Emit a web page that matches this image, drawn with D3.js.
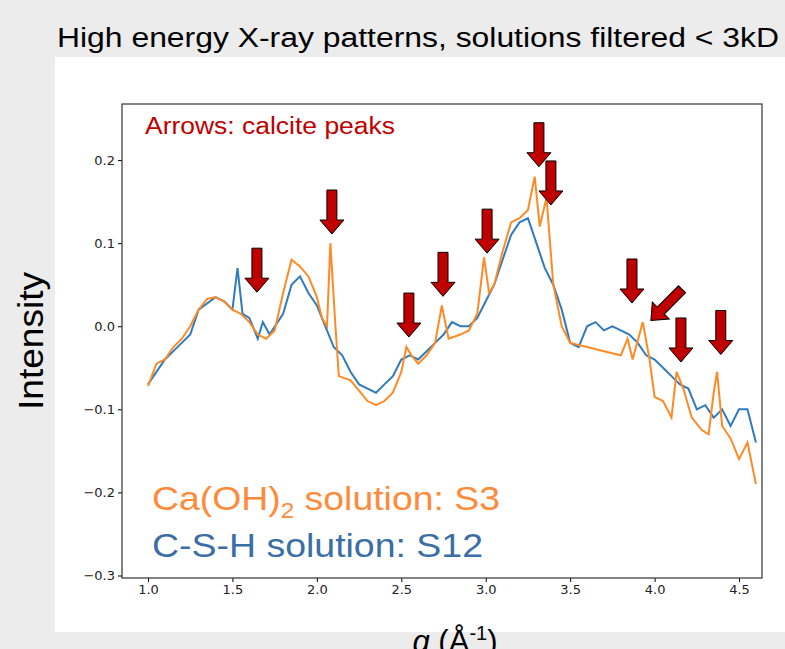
<!DOCTYPE html>
<html><head><meta charset="utf-8">
<script src="https://cdn.jsdelivr.net/npm/d3@7"></script>
<style>body{margin:0;background:#ececec;font-family:"Liberation Sans",Arial,sans-serif}</style>
</head><body>
<svg id="chart" width="785" height="649"></svg>
<script>
// orange: Ca(OH)2 solution S3
const qS3 = [1.0,1.05,1.1,1.15,1.2,1.25,1.3,1.35,1.4,1.45,1.5,1.55,1.6,1.65,1.7,1.75,1.8,1.85,1.9,1.95,2.0,2.03,2.06,2.08,2.11,2.13,2.2,2.3,2.35,2.4,2.45,2.5,2.53,2.56,2.6,2.65,2.7,2.74,2.78,2.85,2.9,2.95,2.99,3.02,3.05,3.1,3.15,3.2,3.25,3.29,3.32,3.36,3.4,3.45,3.5,3.6,3.7,3.8,3.84,3.87,3.93,3.97,4.0,4.05,4.1,4.13,4.17,4.22,4.28,4.32,4.35,4.37,4.4,4.45,4.5,4.55,4.6];
const vS3 = [-0.072,-0.045,-0.04,-0.025,-0.015,0.0,0.02,0.033,0.035,0.03,0.02,0.015,0.005,-0.01,-0.015,-0.005,0.04,0.08,0.072,0.06,0.035,0.01,0.0,0.1,0.0,-0.06,-0.065,-0.09,-0.095,-0.09,-0.08,-0.055,-0.025,-0.035,-0.045,-0.035,-0.02,0.025,-0.015,-0.01,-0.005,0.015,0.083,0.04,0.05,0.09,0.125,0.13,0.14,0.18,0.12,0.155,0.05,0.0,-0.02,-0.025,-0.03,-0.035,-0.015,-0.04,0.005,-0.04,-0.085,-0.09,-0.11,-0.055,-0.075,-0.11,-0.125,-0.13,-0.08,-0.055,-0.12,-0.135,-0.16,-0.14,-0.19];
// blue: C-S-H solution S12
const qS12 = [1.0,1.1,1.2,1.25,1.3,1.4,1.45,1.5,1.53,1.56,1.6,1.65,1.68,1.72,1.8,1.85,1.9,1.95,2.0,2.05,2.1,2.15,2.2,2.25,2.3,2.35,2.4,2.45,2.5,2.55,2.6,2.65,2.7,2.75,2.8,2.85,2.9,2.95,3.0,3.05,3.1,3.15,3.2,3.25,3.3,3.35,3.4,3.45,3.5,3.55,3.6,3.65,3.7,3.75,3.8,3.85,3.9,3.95,4.0,4.05,4.1,4.15,4.2,4.25,4.3,4.35,4.4,4.45,4.5,4.55,4.6];
const vS12 = [-0.07,-0.04,-0.02,-0.01,0.02,0.035,0.03,0.02,0.07,0.015,0.01,-0.015,0.005,-0.01,0.015,0.05,0.06,0.04,0.025,0.0,-0.025,-0.035,-0.055,-0.07,-0.075,-0.08,-0.07,-0.06,-0.04,-0.035,-0.04,-0.03,-0.02,-0.01,0.005,0.0,0.0,0.01,0.03,0.05,0.08,0.11,0.125,0.13,0.1,0.07,0.05,0.02,-0.02,-0.025,0.0,0.005,-0.005,0.0,-0.005,-0.01,-0.02,-0.035,-0.04,-0.05,-0.06,-0.07,-0.075,-0.1,-0.095,-0.11,-0.1,-0.12,-0.1,-0.1,-0.14];
// calcite arrows: tip q, tip value, angle (0 = pointing down)
const arrowQ = [1.645,2.089,2.545,2.747,3.008,3.315,3.386,3.866,3.978,4.156,4.392];
const arrowV = [0.041,0.111,-0.013,0.036,0.088,0.192,0.146,0.028,0.007,-0.043,-0.034];
const arrowAngle = [0,0,0,0,0,0,0,0,45,0,0];
const xTicks = [1.0,1.5,2.0,2.5,3.0,3.5,4.0,4.5];
const yTicks = [0.2,0.1,0.0,-0.1,-0.2,-0.3];

const svg = d3.select("#chart");
svg.append("rect").attr("x",55).attr("y",57).attr("width",730).attr("height",575).attr("fill","#fff");
svg.append("text").attr("x",57).attr("y",47).attr("font-size",27)
  .attr("textLength",722).attr("lengthAdjust","spacingAndGlyphs")
  .text("High energy X-ray patterns, solutions filtered < 3kD");

const L = 122, R = 762, T = 104, B = 578;
const x = d3.scaleLinear().domain([0.846,4.636]).range([L,R]);
const y = d3.scaleLinear().domain([-0.303,0.2675]).range([B,T]);

const fmt = d3.format(".1f");
const xa = svg.append("g").attr("transform",`translate(0,${B})`)
  .call(d3.axisBottom(x).tickValues(xTicks).tickFormat(fmt).tickSizeOuter(0).tickSize(4));
const ya = svg.append("g").attr("transform",`translate(${L},0)`)
  .call(d3.axisLeft(y).tickValues(yTicks).tickFormat(d => d3.format(".1f")(d).replace("-","\u2212")).tickSizeOuter(0).tickSize(4));
[xa,ya].forEach(a => a.selectAll("text").attr("font-family","DejaVu Sans").attr("font-size",13).attr("fill","#222"));
xa.select(".domain").remove(); ya.select(".domain").remove();

const line = d3.line().x(d => x(d[0])).y(d => y(d[1]));
svg.append("clipPath").attr("id","c").append("rect").attr("x",L).attr("y",T).attr("width",R-L).attr("height",B-T);
svg.append("path").datum(d3.zip(qS12,vS12)).attr("d",line).attr("fill","none")
  .attr("stroke","#2f7bbd").attr("stroke-width",2).attr("clip-path","url(#c)");
svg.append("path").datum(d3.zip(qS3,vS3)).attr("d",line).attr("fill","none")
  .attr("stroke","#ff8a24").attr("stroke-width",2).attr("clip-path","url(#c)");

svg.append("rect").attr("x",L).attr("y",T).attr("width",R-L).attr("height",B-T)
  .attr("fill","none").attr("stroke","#333").attr("stroke-width",1.2);

// arrow shape with tip at origin pointing down
const arrowPts = [[0,0],[-12,-14],[-5,-14],[-5,-44],[5,-44],[5,-14],[12,-14]];
svg.append("g").selectAll("path").data(arrowQ).join("path")
  .attr("d","M"+arrowPts.join("L")+"Z")
  .attr("transform",(d,i) => `translate(${x(d)},${y(arrowV[i])}) rotate(${arrowAngle[i]})`)
  .attr("fill","#c00000").attr("stroke","#000").attr("stroke-width",1);

svg.append("text").attr("x",145).attr("y",134).attr("font-size",23).attr("fill","#c00000")
  .attr("textLength",250).attr("lengthAdjust","spacingAndGlyphs").text("Arrows: calcite peaks");

const t1 = svg.append("text").attr("x",152).attr("y",510).attr("font-size",34).attr("fill","#ff8a3a")
  .attr("textLength",348).attr("lengthAdjust","spacingAndGlyphs");
t1.append("tspan").text("Ca(OH)");
t1.append("tspan").attr("font-size",22).attr("dy",8).text("2");
t1.append("tspan").attr("dy",-8).text(" solution: S3");
svg.append("text").attr("x",152).attr("y",557).attr("font-size",34).attr("fill","#3a6ea5")
  .attr("textLength",331).attr("lengthAdjust","spacingAndGlyphs").text("C-S-H solution: S12");

svg.append("text").attr("transform","translate(43,341) rotate(-90)").attr("text-anchor","middle").attr("font-size",35)
  .attr("textLength",138).attr("lengthAdjust","spacingAndGlyphs").text("Intensity");
const xl = svg.append("text").attr("x",455).attr("y",652).attr("text-anchor","middle").attr("font-size",31);
xl.append("tspan").attr("font-style","italic").text("q");
xl.append("tspan").text(" (Å");
xl.append("tspan").attr("font-size",20).attr("dy",-12).text("-1");
xl.append("tspan").attr("dy",12).text(")");
</script>
</body></html>
